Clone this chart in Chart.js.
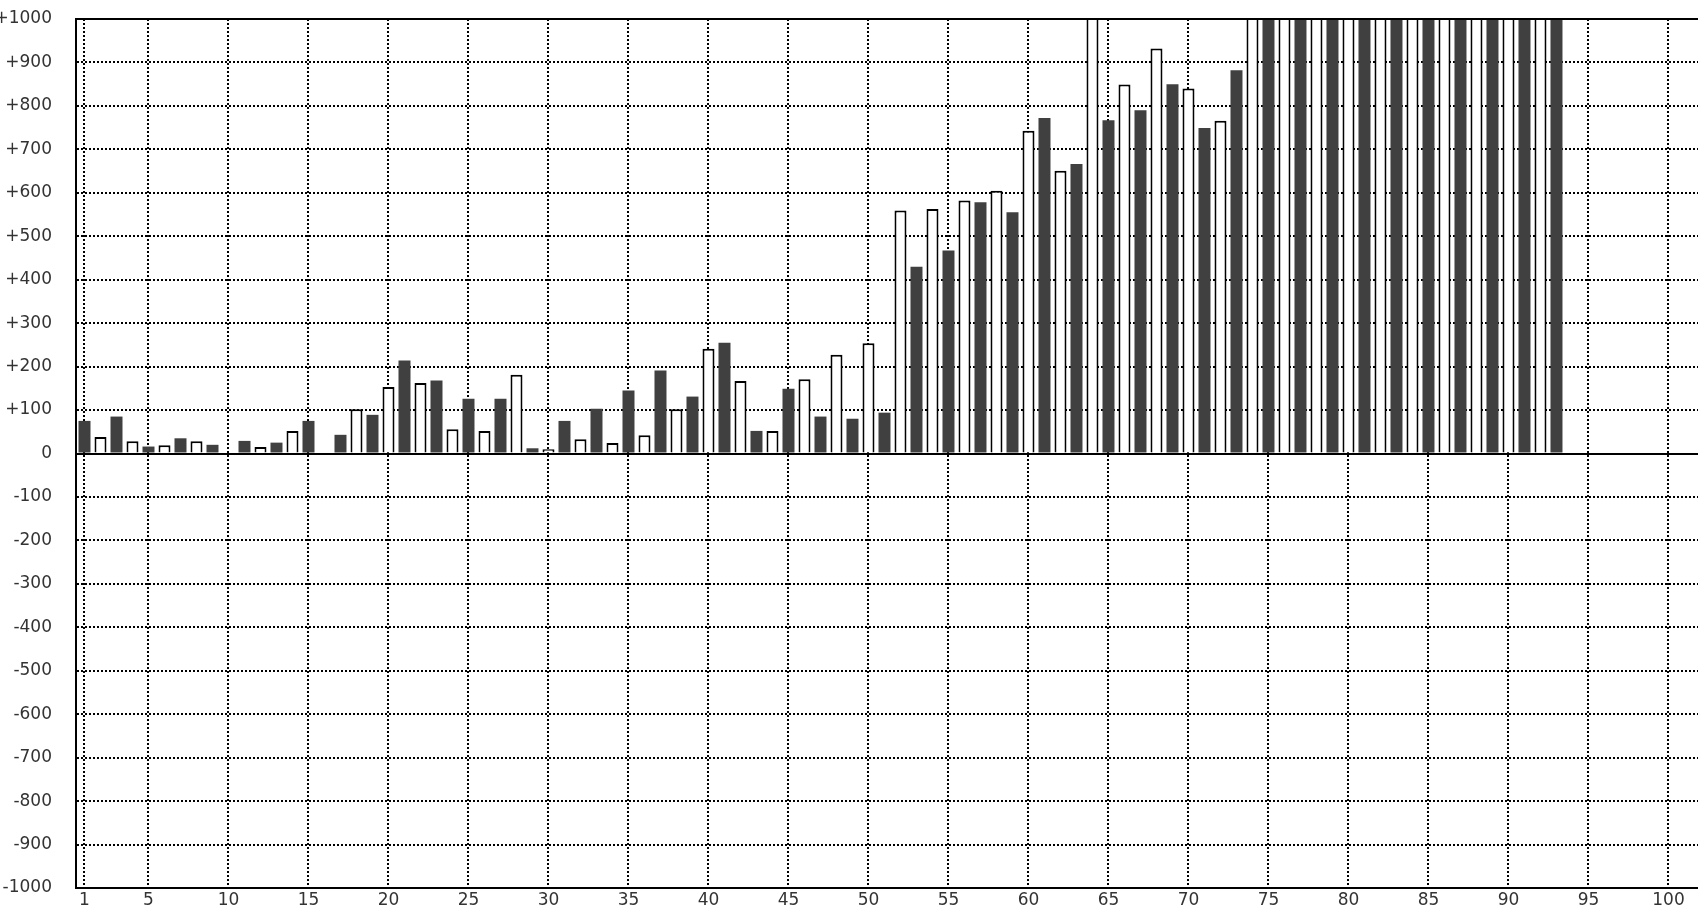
<!DOCTYPE html>
<html lang="en">
<head>
    <meta charset="UTF-8">
    <title>Bar chart</title>
    <script src="https://cdn.jsdelivr.net/npm/chart.js"></script>
    <style>
        html, body {
            margin: 0;
            padding: 0;
            background: #ffffff;
            overflow: hidden;
            width: 1698px;
            height: 910px;
        }
        #chart {
            position: absolute;
            left: -20px;
            top: 0;
        }
    </style>
</head>
<body>
    <canvas id="chart" width="1780" height="910"></canvas>
    <script>
        // Bar positions (1..93) and their values
        const positions = [
            1, 2, 3, 4, 5, 6, 7, 8, 9, 10,
            11, 12, 13, 14, 15, 16, 17, 18, 19, 20,
            21, 22, 23, 24, 25, 26, 27, 28, 29, 30,
            31, 32, 33, 34, 35, 36, 37, 38, 39, 40,
            41, 42, 43, 44, 45, 46, 47, 48, 49, 50,
            51, 52, 53, 54, 55, 56, 57, 58, 59, 60,
            61, 62, 63, 64, 65, 66, 67, 68, 69, 70,
            71, 72, 73, 74, 75, 76, 77, 78, 79, 80,
            81, 82, 83, 84, 85, 86, 87, 88, 89, 90,
            91, 92, 93
        ];
        const values = [
            75, 38, 85, 28, 16, 19, 35, 28, 20, 0,
            29, 15, 25, 52, 75, 0, 43, 102, 89, 153,
            214, 162, 168, 56, 126, 52, 126, 181, 12, 10,
            75, 33, 103, 24, 145, 42, 191, 102, 131, 241,
            255, 167, 52, 52, 149, 171, 85, 227, 80, 254,
            94, 559, 430, 563, 467, 582, 578, 605, 555, 743,
            772, 651, 666, 1200, 767, 849, 790, 932, 850, 840,
            749, 766, 882, 1200, 1200, 1200, 1200, 1200, 1200, 1200,
            1200, 1200, 1200, 1200, 1200, 1200, 1200, 1200, 1200, 1200,
            1200, 1200, 1200
        ];
        const xTicks = [1, 5, 10, 15, 20, 25, 30, 35, 40, 45, 50, 55, 60, 65, 70, 75, 80, 85, 90, 95, 100];
        const yMin = -1000;
        const yMax = 1000;
        const yStep = 100;

        const darkColor = '#404040';
        const labelFont = { family: 'DejaVu Sans', size: 17 };

        const points = positions.map((p, i) => ({ x: p, y: values[i] }));
        const isDark = (ctx) => positions[ctx.dataIndex] % 2 === 1;

        // top frame line of the plot
        const topBorder = {
            id: 'topBorder',
            afterDatasetsDraw(chart) {
                const a = chart.chartArea;
                const c = chart.ctx;
                c.save();
                c.strokeStyle = '#000';
                c.lineWidth = 2;
                c.beginPath();
                c.moveTo(a.left - 1, a.top);
                c.lineTo(a.right, a.top);
                c.stroke();
                c.restore();
            }
        };

        new Chart(document.getElementById('chart'), {
            type: 'bar',
            data: {
                datasets: [{
                    data: points,
                    backgroundColor: ctx => isDark(ctx) ? darkColor : '#ffffff',
                    borderColor: '#000000',
                    borderWidth: ctx => isDark(ctx) ? 0 : 2,
                    borderSkipped: 'start',
                    barPercentage: 0.75,
                    categoryPercentage: 1
                }]
            },
            options: {
                responsive: false,
                animation: false,
                layout: { padding: { top: 19, left: 0, right: 0, bottom: 0 } },
                plugins: {
                    legend: { display: false },
                    tooltip: { enabled: false }
                },
                scales: {
                    x: {
                        type: 'linear',
                        min: 0.469,
                        max: 105.72,
                        offset: false,
                        grid: {
                            offset: false,
                            color: '#000',
                            lineWidth: 2,
                            drawTicks: false
                        },
                        border: { display: true, color: '#000', width: 2, dash: [2, 2] },
                        afterBuildTicks: scale => {
                            scale.ticks = xTicks.map(v => ({ value: v }));
                        },
                        afterFit: scale => {
                            scale.height = 22;
                            scale.paddingLeft = 0;
                            scale.paddingRight = 0;
                        },
                        ticks: {
                            autoSkip: false,
                            maxRotation: 0,
                            padding: 2,
                            color: '#333',
                            font: labelFont,
                            callback: v => String(v)
                        }
                    },
                    y: {
                        min: yMin,
                        max: yMax,
                        grid: {
                            color: '#000',
                            lineWidth: 2,
                            drawTicks: false
                        },
                        border: {
                            display: true,
                            color: '#000',
                            width: 2,
                            dash: ctx => ctx.tick && ctx.tick.value === 0 ? [] : [2, 2]
                        },
                        afterFit: scale => {
                            scale.width = 96;
                            scale.paddingTop = 0;
                            scale.paddingBottom = 0;
                        },
                        ticks: {
                            stepSize: yStep,
                            padding: 24,
                            color: '#333',
                            font: labelFont,
                            callback: v => v > 0 ? '+' + v : String(v)
                        }
                    }
                }
            },
            plugins: [topBorder]
        });
    </script>
</body>
</html>
